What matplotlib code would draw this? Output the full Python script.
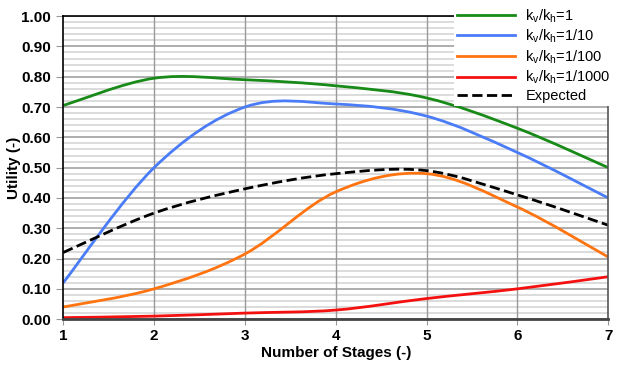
import matplotlib
matplotlib.use('Agg')
import matplotlib.pyplot as plt
import numpy as np
from matplotlib.path import Path
from matplotlib.patches import PathPatch
from matplotlib.lines import Line2D
from matplotlib.ticker import MultipleLocator, FormatStrFormatter

plt.rcParams['font.family'] = ['Liberation Sans', 'DejaVu Sans']

stages = [1, 2, 3, 4, 5, 6, 7]
kv_1 = [0.705, 0.795, 0.790, 0.770, 0.730, 0.630, 0.500]
kv_10 = [0.120, 0.500, 0.700, 0.710, 0.670, 0.550, 0.400]
kv_100 = [0.040, 0.100, 0.215, 0.420, 0.480, 0.370, 0.205]
kv_1000 = [0.005, 0.010, 0.020, 0.030, 0.068, 0.100, 0.140]
expected = [0.220, 0.350, 0.430, 0.480, 0.490, 0.410, 0.310]

series = [
    (kv_1, '#178a17', '-', r'k$_\mathregular{v}$/k$_\mathregular{h}$=1'),
    (kv_10, '#4a7cf7', '-', r'k$_\mathregular{v}$/k$_\mathregular{h}$=1/10'),
    (kv_100, '#ff7410', '-', r'k$_\mathregular{v}$/k$_\mathregular{h}$=1/100'),
    (kv_1000, '#f51010', '-', r'k$_\mathregular{v}$/k$_\mathregular{h}$=1/1000'),
    (expected, 'black', '--', 'Expected'),
]


def smooth_path(xs, ys, t=1 / 6):
    # smoothed line like spreadsheet charts: bezier segments through the points
    xs = np.asarray(xs, float)
    ys = np.asarray(ys, float)
    pts = np.column_stack([xs, ys])
    verts = [pts[0]]
    codes = [Path.MOVETO]
    n = len(pts)
    for i in range(n - 1):
        p0 = pts[i - 1] if i > 0 else pts[i]
        p1 = pts[i]
        p2 = pts[i + 1]
        p3 = pts[i + 2] if i + 2 < n else pts[i + 1]
        c1 = p1 + (p2 - p0) * t
        c2 = p2 - (p3 - p1) * t
        verts += [c1, c2, p2]
        codes += [Path.CURVE4] * 3
    return Path(verts, codes)


fig, ax = plt.subplots(figsize=(6.2, 3.66), dpi=100)
fig.subplots_adjust(left=0.102, right=0.981, top=0.956, bottom=0.128)

ax.set_xlim(1, 7)
ax.set_ylim(0, 1)
ax.yaxis.set_major_locator(MultipleLocator(0.1))
ax.yaxis.set_minor_locator(MultipleLocator(0.02))
ax.yaxis.set_major_formatter(FormatStrFormatter('%.2f'))
ax.xaxis.set_major_locator(MultipleLocator(1))

ax.set_axisbelow(True)
ax.grid(which='minor', axis='y', color='#d9d9d9', lw=1.3)
ax.grid(which='major', axis='y', color='#a8a8a8', lw=1.3)
# vertical lines on top of the horizontal grid
for xv in stages[1:-1]:
    ax.axvline(xv, color='#999999', lw=1.0, zorder=1.0)

handles = []
for vals, color, ls, label in series:
    patch = PathPatch(smooth_path(stages, vals), facecolor='none',
                      edgecolor=color, lw=2, ls=ls, capstyle='butt', zorder=2)
    ax.add_patch(patch)
    handles.append(Line2D([], [], color=color, lw=2, ls=ls, label=label))

for s in ['top', 'left']:
    ax.spines[s].set_color('black')
    ax.spines[s].set_linewidth(1.2)
ax.spines['right'].set_color('#555555')
ax.spines['right'].set_linewidth(1.2)
ax.spines['bottom'].set_color('#444444')
ax.spines['bottom'].set_linewidth(2)

ax.tick_params(axis='both', which='minor', length=0)
ax.tick_params(axis='y', which='major', length=5, color='#999999',
               direction='out', pad=4)
ax.tick_params(axis='x', which='major', length=4, color='#999999',
               direction='out', pad=3)
for lab in ax.get_xticklabels() + ax.get_yticklabels():
    lab.set_fontweight('bold')
    lab.set_fontsize(11)

ax.set_xlabel('Number of Stages (-)', fontsize=11, fontweight='bold', labelpad=2)
ax.set_ylabel('Utility (-)', fontsize=11, fontweight='bold', labelpad=0)

leg = ax.legend(handles=handles, loc='upper right', bbox_to_anchor=(1.01, 1.04),
                frameon=True, fancybox=False, fontsize=10.5, handlelength=4.0,
                labelspacing=0.2, borderaxespad=0.0, borderpad=0.2,
                handletextpad=0.7)
leg.get_frame().set_facecolor('white')
leg.get_frame().set_edgecolor('none')
leg.get_frame().set_alpha(1)

fig.savefig('out.png', dpi=100)
